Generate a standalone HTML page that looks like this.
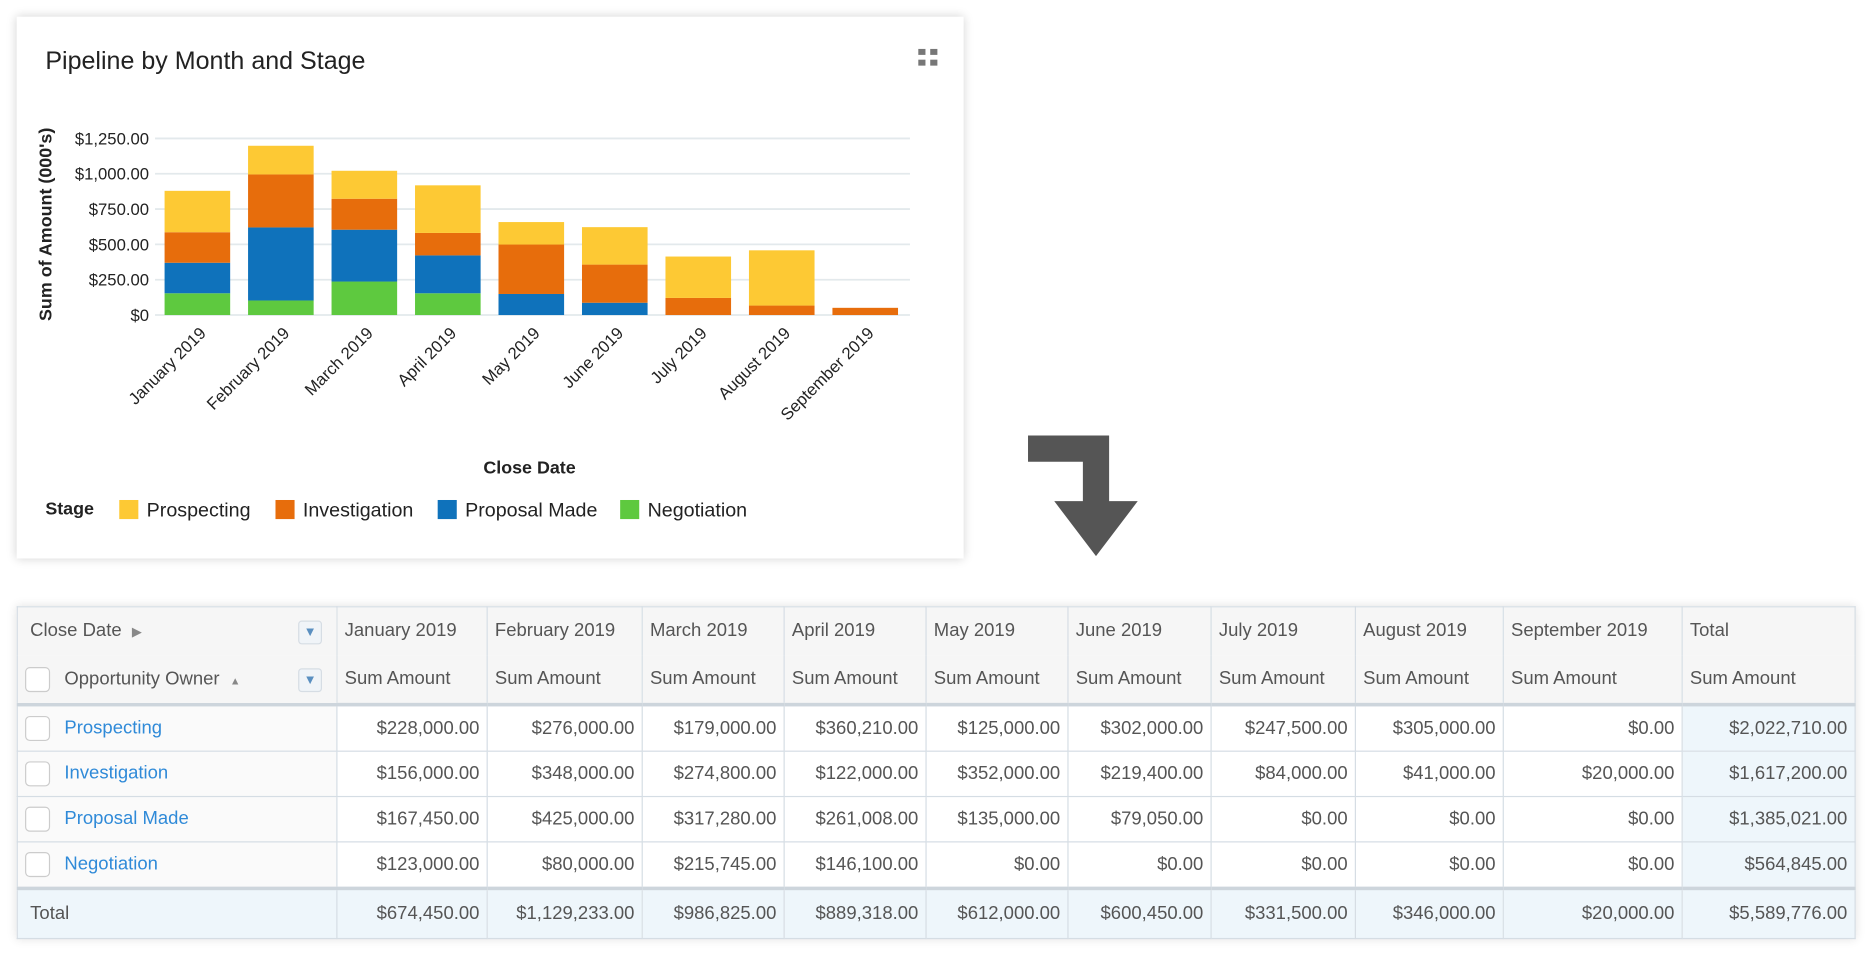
<!DOCTYPE html>
<html><head><meta charset="utf-8">
<style>
html,body{margin:0;padding:0;background:#fff;width:1870px;height:957px;overflow:hidden}
#wrap{position:absolute;left:0;top:0;width:1568px;height:802px;transform:scale(1.1926,1.1933);transform-origin:0 0;font-family:"Liberation Sans",sans-serif}
#card{position:absolute;left:14px;top:14px;width:794px;height:454px;background:#fff;box-shadow:0 0 8px rgba(0,0,0,0.18)}
#tbl{position:absolute;left:14px;top:508px;width:1541px;border-collapse:collapse;table-layout:fixed;font-size:15.5px;color:#555;box-shadow:0 0 8px rgba(0,0,0,0.12)}
#tbl td{border:1px solid #d5dde4;padding:0 6px;white-space:nowrap;overflow:hidden}
#tbl tr.h td{background:#f6f6f6;height:40px}
#tbl tr.h1 td{border-bottom:none}
#tbl tr.h2 td{border-top:none;border-bottom:3px solid #cdd5dc}
#tbl tr.r td{height:37px;text-align:right}
#tbl tr.r td:first-child{text-align:left;background:#fafafa}
#tbl tr.t td{background:#eef6fb;height:40px;border-top:3px solid #cdd5dc;text-align:right}
#tbl tr.t td:first-child{text-align:left}
#tbl td.tot{background:#eef6fb}
.cb{display:inline-block;width:19px;height:19px;border:1px solid #ccc;border-radius:4px;background:#fff;vertical-align:middle;margin-right:12px}
.lnk{color:#2f8ad8}
.dd{position:absolute;width:18px;height:18px;border:1px solid #d6dde4;border-radius:3px;background:#f0f4f8;color:#5a8fc0;font-size:11px;text-align:center;line-height:18px}
</style></head>
<body>
<div id="wrap">
<div id="card"></div>
<svg id="chart" width="820" height="480" style="position:absolute;left:0;top:0" font-family="Liberation Sans, sans-serif">
  <text x="38" y="58" font-size="21" fill="#222">Pipeline by Month and Stage</text>
  <g fill="#777">
    <rect x="770" y="41" width="6" height="5"/><rect x="780" y="41" width="6" height="5"/>
    <rect x="770" y="50" width="6" height="5"/><rect x="780" y="50" width="6" height="5"/>
  </g>
  <g id="grid"></g>
  <g id="bars"></g>
  <g id="xl"></g>
  <text transform="translate(43,188) rotate(-90)" text-anchor="middle" font-size="15" font-weight="bold" fill="#222">Sum of Amount (000's)</text>
  <text x="444" y="397" text-anchor="middle" font-size="15" font-weight="bold" fill="#222">Close Date</text>
  <text x="38" y="431" font-size="15" font-weight="bold" fill="#222">Stage</text>
  <g id="legend"></g>
</svg>

<svg width="120" height="120" style="position:absolute;left:850px;top:360px">
  <polygon points="12,5 80,5 80,60 104,60 69,106 34,60 58,60 58,27 12,27" fill="#555"/>
</svg>

<table id="tbl">
<colgroup><col style="width:268px"><col style="width:126px"><col style="width:130px"><col style="width:119px"><col style="width:119px"><col style="width:119px"><col style="width:120px"><col style="width:121px"><col style="width:124px"><col style="width:150px"><col style="width:145px"></colgroup>
<tr class="h h1">
<td style="position:relative">&nbsp;Close Date&nbsp;&nbsp;<span style="font-size:11px;color:#888">▶</span><span class="dd" style="right:12px;top:11px">▼</span></td>
<td>January 2019</td><td>February 2019</td><td>March 2019</td><td>April 2019</td><td>May 2019</td><td>June 2019</td><td>July 2019</td><td>August 2019</td><td>September 2019</td><td class="tot">Total</td>
</tr>
<tr class="h h2">
<td style="position:relative"><span class="cb"></span>Opportunity Owner&nbsp;&nbsp;<span style="font-size:9px;color:#888">▲</span><span class="dd" style="right:12px;top:11px">▼</span></td>
<td>Sum Amount</td><td>Sum Amount</td><td>Sum Amount</td><td>Sum Amount</td><td>Sum Amount</td><td>Sum Amount</td><td>Sum Amount</td><td>Sum Amount</td><td>Sum Amount</td><td class="tot">Sum Amount</td>
</tr>
<tr class="r"><td><span class="cb"></span><span class="lnk">Prospecting</span></td><td>$228,000.00</td><td>$276,000.00</td><td>$179,000.00</td><td>$360,210.00</td><td>$125,000.00</td><td>$302,000.00</td><td>$247,500.00</td><td>$305,000.00</td><td>$0.00</td><td class="tot">$2,022,710.00</td></tr>
<tr class="r"><td><span class="cb"></span><span class="lnk">Investigation</span></td><td>$156,000.00</td><td>$348,000.00</td><td>$274,800.00</td><td>$122,000.00</td><td>$352,000.00</td><td>$219,400.00</td><td>$84,000.00</td><td>$41,000.00</td><td>$20,000.00</td><td class="tot">$1,617,200.00</td></tr>
<tr class="r"><td><span class="cb"></span><span class="lnk">Proposal Made</span></td><td>$167,450.00</td><td>$425,000.00</td><td>$317,280.00</td><td>$261,008.00</td><td>$135,000.00</td><td>$79,050.00</td><td>$0.00</td><td>$0.00</td><td>$0.00</td><td class="tot">$1,385,021.00</td></tr>
<tr class="r"><td><span class="cb"></span><span class="lnk">Negotiation</span></td><td>$123,000.00</td><td>$80,000.00</td><td>$215,745.00</td><td>$146,100.00</td><td>$0.00</td><td>$0.00</td><td>$0.00</td><td>$0.00</td><td>$0.00</td><td class="tot">$564,845.00</td></tr>
<tr class="t"><td>&nbsp;Total</td><td>$674,450.00</td><td>$1,129,233.00</td><td>$986,825.00</td><td>$889,318.00</td><td>$612,000.00</td><td>$600,450.00</td><td>$331,500.00</td><td>$346,000.00</td><td>$20,000.00</td><td>$5,589,776.00</td></tr>
</table>
</div>
<script>
const months = ["January 2019","February 2019","March 2019","April 2019","May 2019","June 2019","July 2019","August 2019","September 2019"];
const stages = ["Negotiation","Proposal Made","Investigation","Prospecting"];
const negotiation = [154,103,237,154,0,0,0,0,0];
const proposalMade = [216,517,367,268,149,87,0,0,0];
const investigation = [216,375,219,159,350,270,121,67,51];
const prospecting = [293,203,198,337,159,265,293,391,0];
const yTicks = [0,250,500,750,1000,1250];
const yTickLabels = ["$0","$250.00","$500.00","$750.00","$1,000.00","$1,250.00"];

const colors = ["#5ec93f","#0f72bb","#e76d0c","#fdc934"];
const series = [negotiation, proposalMade, investigation, prospecting];
const NS = "http://www.w3.org/2000/svg";
const y0 = 264, y1 = 116, yMax = 1250;
const yScale = v => y0 - (v / yMax) * (y0 - y1);
const band = 70, bx0 = 130, bw = 55;
const xScale = i => bx0 + i * band + (band - bw) / 2 + 0.5;

const grid = document.getElementById('grid');
yTicks.forEach((t, k) => {
  const l = document.createElementNS(NS, 'line');
  
  
  l.setAttribute('x1', 130); l.setAttribute('x2', 763);
  l.setAttribute('y1', yScale(t)); l.setAttribute('y2', yScale(t));
  l.setAttribute('stroke', '#e3e9ec'); l.setAttribute('stroke-width', 1.5);
  grid.appendChild(l);
  const tx = document.createElementNS(NS, 'text');
  
  
  tx.setAttribute('x', 125); tx.setAttribute('y', yScale(t) + 5);
  tx.setAttribute('text-anchor', 'end'); tx.setAttribute('font-size', 14); tx.setAttribute('fill', '#222');
  tx.textContent = yTickLabels[k];
  grid.appendChild(tx);
});

const bars = document.getElementById('bars');
months.forEach((m, i) => {
  let acc = 0;
  series.forEach((s, j) => {
    const v = s[i];
    if (v > 0) {
      const r = document.createElementNS(NS, 'rect');
      
      
      r.setAttribute('x', xScale(i)); r.setAttribute('width', bw);
      r.setAttribute('y', yScale(acc + v)); r.setAttribute('height', yScale(acc) - yScale(acc + v));
      r.setAttribute('fill', colors[j]);
      bars.appendChild(r);
    }
    acc += v;
  });
  const t = document.createElementNS(NS, 'text');
  
  
  const cx = xScale(i) + bw / 2 + 8, cy = 280;
  t.setAttribute('transform', 'translate(' + cx + ',' + cy + ') rotate(-45)');
  t.setAttribute('text-anchor', 'end'); t.setAttribute('font-size', 14); t.setAttribute('fill', '#222');
  t.textContent = m;
  document.getElementById('xl').appendChild(t);
});

const legend = document.getElementById('legend');
const legendX = [100, 231, 367, 520];
[3, 2, 1, 0].forEach((j, k) => {
  const r = document.createElementNS(NS, 'rect');
  
  
  r.setAttribute('x', legendX[k]); r.setAttribute('y', 419); r.setAttribute('width', 16); r.setAttribute('height', 16);
  r.setAttribute('fill', colors[j]);
  legend.appendChild(r);
  const t = document.createElementNS(NS, 'text');
  
  
  t.setAttribute('x', legendX[k] + 23); t.setAttribute('y', 433);
  t.setAttribute('font-size', 16.5); t.setAttribute('fill', '#222');
  t.textContent = stages[j];
  legend.appendChild(t);
});
</script>
</body></html>
